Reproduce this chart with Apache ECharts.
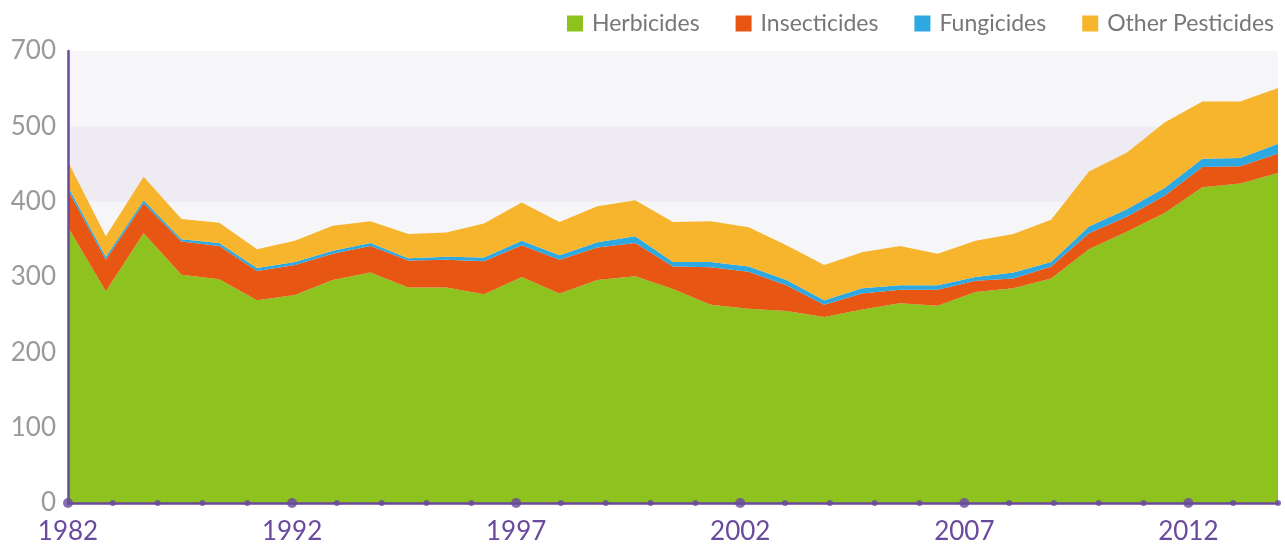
<!DOCTYPE html>
<html>
<head>
<meta charset="utf-8">
<script src="https://cdn.jsdelivr.net/npm/echarts@6/dist/echarts.min.js"></script>
<style>
html,body{margin:0;padding:0;background:#fff;}
#chart{width:1285px;height:548px;}
</style>
</head>
<body>
<div id="chart"></div>
<script>
// Data years (one value per year)
var years = [1982,1983,1984,1985,1986,1987,1988,1989,1990,1991,1992,1993,1994,1995,1996,1997,1998,1999,2000,2001,2002,2003,2004,2005,2006,2007,2008,2009,2010,2011,2012,2013,2014];
var herbicides   = [366,281,358,303,297,269,276,296,306,286,286,277,300,278,296,301,284,263,258,255,247,257,265,262,280,285,298,337,360,385,419,424,438];
var insecticides = [49,42,40,44,44,39,40,35,35,36,37,44,42,45,43,44,30,50,49,34,16,21,18,21,15,13,16,21,20,23,27,23,26];
var fungicides   = [5,4,4,3,4,4,4,4,4,3,4,5,6,6,7,9,6,7,7,7,6,7,6,6,5,8,6,9,10,10,11,11,13];
var otherPest    = [33,27,31,27,27,25,28,33,29,32,32,45,51,44,48,48,53,54,52,46,47,48,52,42,48,51,56,73,75,87,76,75,74];

// Axis tick labels as drawn in the reference
var xTickCount = 28;
var xTickLabels = {0:'1982',5:'1992',10:'1997',15:'2002',20:'2007',25:'2012'};
var yTickLabels = ['0','100','200','300','400','500','700'];

var FONT = 'Lato';
var PURPLE = '#6a4a9c';

var tickDots = [];
for (var i = 0; i < xTickCount; i++) tickDots.push([i, 0]);

var chart = echarts.init(document.getElementById('chart'), null, {renderer:'canvas'});

function areaSeries(name, data, color) {
  return {
    name: name, type: 'line', stack: 'total', data: data,
    xAxisIndex: 0, yAxisIndex: 0,
    symbol: 'none', smooth: false,
    lineStyle: {width: 0, color: color},
    itemStyle: {color: color},
    areaStyle: {color: color, opacity: 1},
    z: 2, animation: false
  };
}

chart.setOption({
  animation: false,
  grid: {left: 68, right: 7, top: 51, bottom: 45, containLabel: false},
  legend: {
    right: 6, top: 7,
    itemWidth: 16, itemHeight: 16, itemGap: 36,
    icon: 'rect',
    textStyle: {fontFamily: FONT, fontSize: 23, color: '#777777', padding: [0,0,0,4]},
    data: ['Herbicides','Insecticides','Fungicides','Other Pesticides']
  },
  xAxis: [
    {
      type: 'category', data: years, boundaryGap: false, show: false,
      gridIndex: 0
    },
    {
      type: 'value', min: 0, max: xTickCount - 1, interval: 1, position: 'bottom',
      gridIndex: 0, z: 6,
      axisLine: {show: true, onZero: false, lineStyle: {color: PURPLE, width: 2.5}},
      axisTick: {show: false},
      splitLine: {show: false},
      axisLabel: {
        show: true, margin: 16, color: PURPLE, fontFamily: FONT, fontSize: 26,
        formatter: function (v) { return xTickLabels[v] || ''; }
      }
    }
  ],
  yAxis: [
    {
      type: 'value', min: 0, max: 600, interval: 100,
      axisLine: {show: false},
      axisTick: {show: false},
      splitLine: {show: false},
      splitArea: {show: true, areaStyle: {color: ['#f6f6f9','#f6f6f9','#f6f6f9','#f6f6f9','#eeebf2','#f6f6f9']}},
      axisLabel: {
        margin: 12, color: '#9a9a9a', fontFamily: FONT, fontSize: 26,
        formatter: function (v) { return yTickLabels[Math.round(v / 100)]; }
      }
    },
    {
      type: 'value', min: 0, max: 600, interval: 100, position: 'left', z: 6,
      axisLine: {show: true, onZero: false, lineStyle: {color: PURPLE, width: 2.5}},
      axisTick: {show: false},
      splitLine: {show: false},
      splitArea: {show: false},
      axisLabel: {show: false}
    }
  ],
  series: [
    areaSeries('Herbicides', herbicides, '#8dc21f'),
    areaSeries('Insecticides', insecticides, '#e85614'),
    areaSeries('Fungicides', fungicides, '#2ea8e0'),
    areaSeries('Other Pesticides', otherPest, '#f7b52e'),
    {
      type: 'scatter', xAxisIndex: 1, yAxisIndex: 0, data: tickDots,
      symbol: 'circle',
      symbolSize: function (d) { return d[0] % 5 === 0 ? 10 : 6; },
      itemStyle: {color: PURPLE},
      clip: false, z: 10, silent: true, animation: false
    }
  ]
});
</script>
</body>
</html>
